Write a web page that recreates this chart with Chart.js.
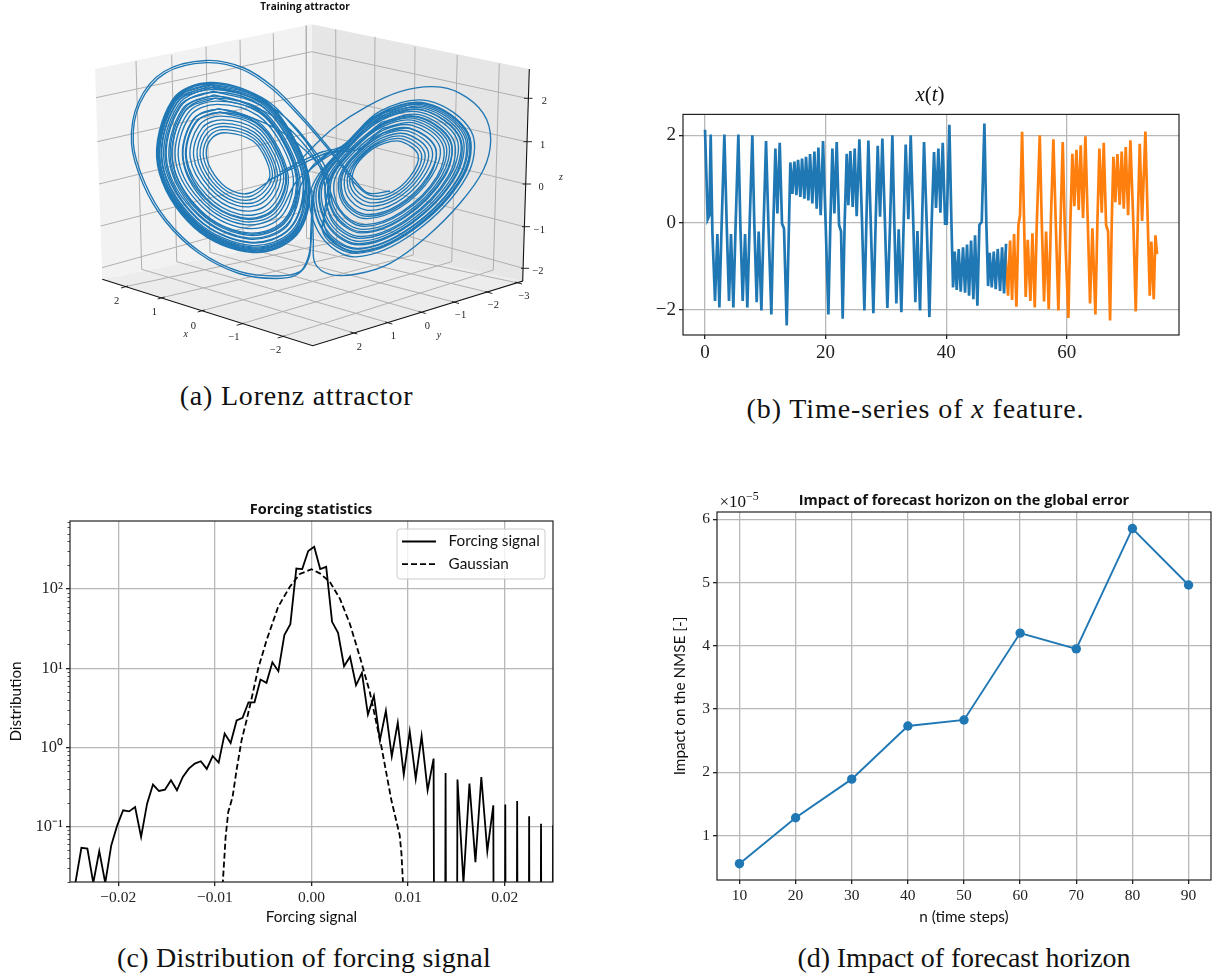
<!DOCTYPE html>
<html>
<head>
<meta charset="utf-8">
<script src="https://cdn.jsdelivr.net/npm/chart.js@4"></script>
<style>
html, body { margin: 0; padding: 0; background: #fff; }
#page { position: relative; width: 1219px; height: 978px; overflow: hidden; }
canvas { position: absolute; }
.t { position: absolute; white-space: nowrap; transform: translate(-50%, -50%); color: #111; }
.cap { font: 28px "Liberation Serif", serif; }
.head { font: bold 14.5px "Open Sans", sans-serif; }
sup { font-size: 70%; line-height: 0; }
</style>
</head>
<body>
<div id="page">
  <canvas id="chartA" width="600" height="370" style="left:0;top:0"></canvas>
  <canvas id="chartB" width="560" height="270" style="left:640px;top:100px"></canvas>
  <canvas id="chartC" width="570" height="430" style="left:0;top:505px"></canvas>
  <canvas id="chartD" width="569" height="440" style="left:650px;top:495px"></canvas>

  <div class="t head" style="left:305px;top:6px;font-size:10px">Training attractor</div>
  <div class="t" style="left:930px;top:94px;font:21px 'Liberation Serif',serif"><i>x</i>(<i>t</i>)</div>
  <div class="t head" style="left:311px;top:508px">Forcing statistics</div>
  <div class="t head" style="left:964px;top:499px">Impact of forecast horizon on the global error</div>
  <div class="t" style="left:739px;top:502px;font:17px 'Liberation Serif',serif">×10<sup>−5</sup></div>

  <div class="t cap" style="left:296.5px;top:396px;letter-spacing:.8px">(a) Lorenz attractor</div>
  <div class="t cap" style="left:915.5px;top:409px;letter-spacing:.9px">(b) Time-series of <i>x</i> feature.</div>
  <div class="t cap" style="left:304px;top:958px;letter-spacing:.25px">(c) Distribution of forcing signal</div>
  <div class="t cap" style="left:964px;top:958px;letter-spacing:-.1px">(d) Impact of forecast horizon</div>
</div>

<script>
// (b) x feature
const timeTrain = [0,.45,.72,.94,1.22,1.66,2.05,2.38,2.77,3.21,3.6,3.98,4.31,4.7,5.09,5.53,5.86,6.25,6.64,7.02,7.41,7.85,8.18,8.57,8.9,9.35,9.73,10.12,10.5,11,11.34,11.67,12,12.39,12.77,13.1,13.55,14.15,14.49,14.82,15.15,15.43,15.81,16.09,16.48,16.75,17.14,17.42,17.8,18.14,18.52,18.8,19.18,19.57,20.01,20.46,20.79,21.12,21.45,21.84,22.23,22.56,22.83,23.16,23.5,23.77,24.1,24.49,24.82,25.15,25.6,26.04,26.43,26.76,27.09,27.48,27.92,28.3,28.64,29.03,29.41,29.85,30.24,30.68,31.07,31.4,31.73,32.12,32.56,32.95,33.28,33.72,34.11,34.55,34.88,35.22,35.66,35.99,36.32,36.77,37.21,37.59,37.98,38.31,38.7,39.03,39.42,39.81,40.08,40.52,40.86,41.13,41.41,41.74,42.07,42.4,42.79,43.12,43.45,43.79,44.12,44.5,44.78,45.17,45.5,45.89,46.33,46.66,46.94,47.21,47.55,47.88,48.21,48.54,48.93,49.26,49.59,49.92];
const xTrain = [2.13,.08,.17,2.02,-.2,-1.79,-.26,-1.94,.02,2.02,-.05,-1.79,-.26,-1.94,.02,2.02,-.05,-1.79,-.26,-1.94,.02,2,-.05,-1.82,-.2,-2.01,.02,1.87,.02,-2.1,.02,1.7,.21,1.83,-.02,-.13,-2.35,1.38,.66,1.4,.63,1.44,.59,1.47,.55,1.51,.51,1.57,.44,1.63,.32,1.72,.17,1.87,-.05,-2.1,.02,1.7,.21,1.85,-.05,-.2,-2.2,.02,1.58,.4,1.64,.36,1.7,.15,1.91,.02,-2.01,.02,1.88,.02,-2.07,.02,1.76,.14,1.93,-.05,-1.95,-.05,2,-.05,-1.85,-.15,-2.05,.02,1.79,.08,2,-.05,-1.82,-.19,-2.01,.02,1.85,-.05,-2.16,.02,1.62,.34,1.7,.23,1.83,-.02,-.02,2.24,.02,-1.48,-.66,-1.54,-.6,-1.58,-.56,-1.6,-.5,-1.67,-.41,-1.75,-.29,-1.9,-.05,.02,2.27,-.05,-1.45,-.69,-1.48,-.66,-1.52,-.6,-1.56,-.56,-1.62,-.48];
const timeTest = [49.81,50.25,50.59,50.92,51.25,51.64,51.97,52.24,52.58,52.91,53.18,53.52,53.96,54.29,54.68,55.01,55.51,55.84,56.22,56.56,57,57.38,57.77,58.16,58.6,58.99,59.32,59.65,60.26,60.59,60.92,61.25,61.59,61.97,62.3,62.69,63.08,63.47,63.85,64.24,64.74,65.07,65.4,65.79,66.12,66.51,66.84,67.17,67.45,67.72,68.05,68.39,68.77,69.1,69.44,69.77,70.16,70.54,71.04,71.43,71.76,72.09,72.48,73.03,73.42,73.75,74.02,74.41,74.69,74.96];
const xTest = [-.66,-1.67,-.41,-1.77,-.26,-1.92,-.05,.17,2.08,.02,-1.7,-.39,-1.79,-.24,-1.94,-.05,2,.02,-1.8,-.2,-1.98,.17,1.91,.02,-2.01,.17,1.85,-.05,-2.18,.02,1.58,.38,1.67,.29,1.77,.11,1.98,.02,-1.85,-.13,-2.1,.02,1.7,.23,1.83,-.05,-.2,-2.24,.02,1.51,.47,1.57,.41,1.63,.32,1.73,.17,1.89,-.05,-2.03,.02,1.81,.04,2.09,.02,-1.67,-.43,-1.75,-.29,-.72];
const timeTicks = [0, 20, 40, 60];
const xFeatureTicks = [-2, 0, 2];

// (c) forcing histogram, empty bins drop out of the log axis
const EMPTY = 1e-30;
const forcingBins = [-.02444,-.02382,-.0232,-.02259,-.02197,-.02135,-.02073,-.02011,-.0195,-.01888,-.01826,-.01764,-.01702,-.01641,-.01579,-.01517,-.01455,-.01393,-.01332,-.0127,-.01208,-.01146,-.01084,-.01023,-.00961,-.00899,-.00837,-.00775,-.00714,-.00652,-.0059,-.00528,-.00466,-.00405,-.00343,-.00281,-.00219,-.00157,-.00096,-.00034,.00028,.0009,.00152,.00213,.00275,.00337,.00399,.00461,.00522,.00584,.00646,.00708,.0077,.00831,.00893,.00955,.01017,.01079,.0114,.01202,.01264,.01326,.01388,.01449,.01511,.01573,.01635,.01697,.01758,.0182,.01882,.01944,.02006,.02067,.02129,.02191,.02253,.02315,.02376,.02438,.025];
const forcingCounts = [.0195,.054,.053,.0195,.049,.0195,.058,.104,.161,.156,.177,.074,.195,.34,.282,.293,.385,.288,.424,.54,.625,.67,.536,.78,.644,1.5,1.14,2.19,2.36,3.72,3.72,7.2,6.55,11.9,9.2,26.2,36.1,182,179,302,343,179,191,38.6,28.1,10.6,14,6.1,8.75,2.6,4.48,1.23,2.9,.774,2.06,.454,1.6,.4,1.39,.288,.723,EMPTY,.476,EMPTY,.393,.0195,.349,.0357,.424,.049,.186,EMPTY,.191,EMPTY,.211,EMPTY,.135,EMPTY,.109,EMPTY,.104];
const gaussBins = [-.0092,-.00889,-.00862,-.00817,-.00776,-.00724,-.00672,-.0062,-.00552,-.00465,-.00345,-.00224,-.00121,0,.00086,.00189,.00293,.00396,.005,.00603,.00724,.00827,.00913,.00931,.00947];
const gaussValues = [.018,.074,.153,.237,.515,1.23,2.21,4.15,9.93,22.6,59.8,107,155,178,158,124,76,36.8,14,5.04,1.02,.215,.078,.046,.0195];
const forcingTicks = [-.02, -.01, 0, .01, .02];
const distributionTicks = [.1, 1, 10, 100];
const distributionLabels = ['10⁻¹', '10⁰', '10¹', '10²'];

// (d) impact on the NMSE, in units of 1e-5
const horizonSteps = [10, 20, 30, 40, 50, 60, 70, 80, 90];
const nmseImpact = [.553, 1.28, 1.89, 2.73, 2.826, 4.2, 3.95, 5.853, 4.96];
const nmseTicks = [1, 2, 3, 4, 5, 6];

// (a) attractor traced on the picture, in projected plot units
const attractorMain = [
[312,190],[311.5,215],[310.7,233.3],[309.3,256.7],[300,271.7],[276.7,276],[240,271.7],[200,251.7],[166.7,220],[145,183.3],[133.3,143.3],[140,103.3],[165,73.3],[206.7,62.7],[243.3,70],[273.3,90],[300,116.7],[323.3,143.3],[343.3,168.3],[351.7,180],
[369.6,195.1],[390.7,192.8],[410,176.7],[418.2,155.3],[401.6,141.6],[384.7,143.1],[367.6,152.7],[354.3,168.8],[353.7,186.3],
[368.8,198.7],[392.1,195.1],[413.3,176.7],[421.4,153.9],[403.2,139.1],[384.4,141.2],[366,152.3],[351.6,170.2],[351.7,189.4],
[368,202.3],[393.5,197.4],[416.6,176.7],[424.6,152.5],[404.8,136.7],[384.1,139.3],[364.4,151.9],[348.9,171.6],[349.7,192.5],
[367.2,205.9],[394.9,199.7],[419.9,176.7],[428.1,151],[406.5,134],[383.8,137.2],[362.5,151.5],[345.7,173.2],[347.3,196.2],
[366.3,210.1],[396.5,202.4],[423.7,176.7],[431.8,149.3],[408.4,131.2],[383.4,135],[360.7,151],[342.6,174.9],[345,199.8],
[365.3,214.3],[398.2,205.1],[427.6,176.7],[435.5,147.7],[410.3,128.3],[383.1,132.8],[358.8,150.5],[339.4,176.5],[342.7,203.4],
[364.4,218.5],[399.8,207.8],[431.4,176.7],[439.5,145.9],[412.3,125.3],[382.7,130.4],[356.7,150],
[330,152],[300,165],[275,177],
[249.8,193],[230.7,190.2],[214.4,174.9],[206.2,154],[212.5,137.6],[227.2,132.8],[252.6,140.8],[266.6,160.9],[269.1,179.1],
[252.7,195.6],[232.1,194],[213.2,178.1],[203.2,154.7],[210,135.2],[226.1,129.7],[253.2,138],[268.4,159.3],[271.8,179.6],
[255.6,198.2],[233.5,197.8],[212,181.3],[200.1,155.4],[207.5,132.8],[225,126.5],[253.8,135.2],[270.2,157.7],[274.5,180.1],
[258.5,200.8],[234.9,201.6],[210.8,184.5],[197.1,156.1],[205,130.4],[223.9,123.4],[254.4,132.4],[271.9,156.1],[277.2,180.6],
[261.4,203.4],[236.3,205.4],[209.6,187.7],[193.7,156.9],[202.3,127.8],[222.7,119.9],[255.1,129.1],[274,154.3],[280.3,181.2],
[264.8,206.4],[237.9,209.9],[208.2,191.5],[190.2,157.7],[199.4,125],[221.4,116.2],[255.8,125.9],[276,152.4],[283.5,181.7],
[268.1,209.5],[239.6,214.3],[206.8,195.2],[186.6,158.5],[196.4,122.2],[220.2,112.5],[256.5,122.6],[278.1,150.5],[286.6,182.3],
[271.5,212.5],[241.2,218.7],[205.4,198.9],[183.3,159.3],[193.7,119.6],[219,109.1],[257.1,119.8],
[285,134],[305,150],[322,170],[338.7,209.6],
[362.7,226.3],[402.8,212.8],[438.6,176.7],[445.4,143.4],[415.2,120.8],[382.2,126.9],[354,149.3],[331.3,180.7],[336.7,212.7],
[362,229.3],[404,214.7],[441.3,176.7],[448,142.2],[416.6,118.8],[381.9,125.3],[352.9,149.1],[329.5,181.6],[335.3,214.7],
[361.5,231.7],[404.9,216.2],[443.5,176.7],[450.7,141],[417.9,116.7],[381.7,123.8],[351.3,148.7],
[332,152],[312,168],[296,182],
[275.9,216.4],[243.3,224.4],[203.6,203.7],[178.7,160.3],[190,116],[217.3,104.4],[258,115.6],[282.5,146.5],[293.4,183.6],
[278.8,219],[244.7,228.2],[202.4,206.9],[175.6,161],[187.5,113.6],[216.2,101.2],[258.7,112.3],[284.5,144.7],[296.5,184.2],
[282.2,222],[246.3,232.7],[201,210.7],[172.6,161.7],[185,111.2],[215.1,98.1],[259.1,110.4],[285.7,143.6],[298.3,184.5],
[284.1,223.7],[247.2,235.2],[200.2,212.8],[170.8,162.1],[183.5,109.8],[214.5,96.2],[259.4,109],
[285,125],[307,148],[322,172],[331.6,220.4],
[360,238.3],[407.5,220.4],[449.6,176.7],[456.6,138.4],[420.8,112.3],[381.1,120.3],[348.6,148],[322.3,185.3],[330,223],
[359.4,241.3],[408.6,222.3],[452.3,176.7],[459.2,137.3],[422.2,110.2],[380.9,118.7],[347,147.6],[319.6,186.7],[328,226.1],
[358.6,244.9],[410,224.6],[455.6,176.7],[461.9,136.1],[423.5,108.2],[380.6,117.1],[346,147.4],
[330,155],[310,170],[301,185],
[287,226.3],[248.6,239],[199,216],[167,163],[180.4,106.8],[213.1,92.3],[260.3,104.8],[289.2,140.4],[303.7,185.5],
[289.9,228.9],[250,242.8],[197.8,219.2],[164.4,163.6],[178.3,104.8],[212.2,89.6],[260.7,103],[290.4,139.4],[305.5,185.9],
[291.9,230.7],[251,245.4],[197,221.4],[162.6,164],[176.8,103.4],[211.6,87.8],[261,101.6],
[286,118],[310,145],[328,175],[325.6,229.7],
[357.6,249.1],[411.7,227.3],[459.5,176.7],[465.6,134.5],[425.4,105.3],[380.3,114.9],[344.4,146.9],[314.7,189.3],[324.3,231.7],
[357.1,251.5],[412.6,228.8],[461.7,176.7],[467.5,133.7],[426.3,103.9],[380,113.5],[343.3,146.7],
[325,155],[308,172],[306,186],
[293.8,232.4],[251.9,247.9],[196.2,223.5],[160.3,164.5],[175,101.6],[210.7,85.4],[261.4,99.7],[292.4,137.5],[308.7,186.5],
[295.2,233.7],[252.6,249.8],[195.6,225.1],[159,164.8],[173.9,100.6],[210,83.8],[261.7,98.3],[293.3,136.7],[310,186.7],
[296.7,235],[253.3,251.7],[195,226.7],[158.3,165],[173.3,100],[210,83.3],[261.7,98.3],[293.3,136.7],[310,186.7],
[296,235.5],[253,252.5],[194,227.5],[157.5,165],[172.5,99.5],[210,82.5],[262,97.5],
[292,125],[315,155],[330,190],[323.3,233.3],
[356.7,253.3],[413.3,230],[463.3,176.7],[468.3,133.3],[426.7,103.3],[380,113.3],[343.3,146.7],[310.6,191.4],[321.3,236.4],
[355.9,256.9],[414.7,232.3],[466.6,176.7],[471.5,131.9],[428.3,100.9],[379.7,111.4],[341.7,146.3],
[322,152],[300,162],[280,172]
];
const attractorOuterRight = [[312.5,195],[312.8,220],[313.3,240],[315,263.3],[330,274.3],[356.7,274],[390,263.3],[426.7,236.7],[460,203.3],[483.3,170],[490.7,140],[483.3,113.3],[460,93.3],[433.3,86.7],[400,91.7],[366.7,106.7],[333.3,128.3],[313.3,146.7],[296.7,163.3],[280,175],[268,180]];
const attractorOuterLeft = [[311.5,200],[311.7,233],[308,258],[298,274],[276,278.5],[239,273.5],[198.5,253],[165,221],[143,184],[131.5,143],[138.5,102],[164,71.5],[206.5,60.5],[244,68],[274.5,88],[301,115],[325,143],[345,168],[353,178],[368,193],[390,191]];
// more turns of the thick bands of both lobes
const attractorBands = [
[[210.3,84.1],[261.6,99],[292.9,137.1],[309.3,186.6],[296,234.4],[253,250.7],[195.3,225.9],[159,164.8],[173.9,100.6],[210.3,84.1]],
[[210.8,85.7],[261.3,100.4],[292,137.9],[308,186.3],[294.5,233],[252.3,248.8],[195.9,224.3],[160.6,164.5],[175.2,101.8],[210.8,85.7]],
[[211.4,87.3],[261,101.8],[291.1,138.7],[306.6,186.1],[293.1,231.8],[251.6,246.9],[196.5,222.7],[162.1,164.1],[176.4,103],[211.4,87.3]],
[[212.7,91.2],[260.2,105.3],[288.9,140.7],[303.3,185.4],[289.4,228.5],[249.8,242.2],[198,218.7],[165.9,163.2],[179.6,106],[212.7,91.2]],
[[214,94.9],[259.5,108.6],[286.9,142.6],[300.1,184.9],[286,225.5],[248.2,237.8],[199.4,215],[169.5,162.4],[182.5,108.8],[214,94.9]],
[[215.1,98.1],[258.9,111.4],[285.1,144.2],[297.4,184.4],[283.1,222.9],[246.8,233.9],[200.6,211.7],[172.6,161.7],[185,111.2],[215.1,98.1]],
[[218.8,108.6],[256.9,120.7],[279.2,149.5],[288.4,182.7],[273.5,214.2],[242.1,221.3],[204.6,201.1],[182.8,159.4],[193.3,119.2],[218.8,108.6]],
[[219.9,111.8],[256.3,123.5],[277.5,151.1],[285.7,182.2],[270.6,211.6],[240.7,217.5],[205.8,197.9],[185.8,158.7],[195.8,121.6],[219.9,111.8]],
[[380.1,113.9],[343.8,146.8],[314.2,189.5],[323.9,232.3],[357,252.1],[412.8,229.2],[462.2,176.7],[467.2,133.8],[426.2,104.1],[380.1,113.9]],
[[380.4,115.8],[345.4,147.2],[316.9,188.1],[326,229.2],[357.8,248.5],[411.4,226.9],[458.9,176.7],[464,135.2],[424.6,106.6],[380.4,115.8]],
[[380.8,118.4],[347.6,147.8],[320.5,186.3],[328.6,225],[358.8,243.7],[409.6,223.9],[454.5,176.7],[459.8,137],[422.4,109.8],[380.8,118.4]],
[[381.4,122.2],[350.8,148.5],[325.9,183.5],[332.7,218.9],[360.4,236.5],[406.8,219.3],[447.9,176.7],[453.4,139.9],[419.2,114.7],[381.4,122.2]],
[[381.7,124.1],[352.4,149],[328.6,182.1],[334.7,215.8],[361.2,232.9],[405.4,217],[444.6,176.7],[450.2,141.3],[417.6,117.1],[381.7,124.1]],
[[382.4,128.5],[356.1,149.9],[334.9,178.8],[339.3,208.5],[363.1,224.5],[402.1,211.6],[436.9,176.7],[442.7,144.5],[413.9,122.8],[382.4,128.5]],
[[383.1,133],[359.9,150.8],[341.2,175.6],[344,201.3],[364.9,216.1],[398.9,206.3],[429.2,176.7],[435.3,147.8],[410.1,128.5],[383.1,133]]
];

// (a) box of the 3D axes, in the same projected units
const wallLeft = [[95,69],[311.7,24.3],[311.7,236.7],[102.3,279.3]];
const wallRight = [[311.7,24.3],[529.3,69],[522.7,281],[311.7,236.7]];
const boxFloor = [[102.3,279.3],[311.7,236.7],[522.7,281],[312.7,345.7]];
const boxGrid = [
[[136,61],[141.7,269.3]],[[171.7,55],[176.7,261.7]],[[206,46.7],[210,252.3]],[[240,40],[243.3,247.3]],[[273.3,33.3],[276.7,241.7]],[[306,25.7],[306.5,238]],
[[335.7,29.3],[336.7,241.7]],[[375,36.7],[373.3,248.3]],[[415,46.7],[413.3,255]],[[457.3,55],[451.7,261.7]],[[499.3,63.3],[493.3,270]],
[[96,97.7],[311.7,51.7],[526.7,98.3]],[[97.3,141.7],[311.7,93.3],[526,141.7]],[[99,184],[311.7,132.3],[525,184]],[[100.7,226],[311.7,171.7],[524.3,226.7]],[[102,267.7],[311.7,209.3],[523.3,268.3]],
[[141.7,269.3],[353.3,332.7]],[[176.7,261.7],[388.3,322.7]],[[210,252.3],[421.7,312.3]],[[243.3,247.3],[455,302.3]],[[276.7,241.7],[488.3,292.3]],[[306.5,238],[518,283]],
[[336.7,241.7],[125,286.7]],[[373.3,248.3],[161.7,297.7]],[[413.3,255],[201.7,310.7]],[[451.7,261.7],[240.7,324]],[[493.3,270],[281.7,336.7]]
];
const boxAxes = [[[102.3,279.3],[312.7,345.7],[522.7,281],[529.3,69]]];
const boxTicks = [
[[128,286],[121,288]],[[164.7,297],[157.7,299]],[[204.7,310],[197.7,312]],[[243.7,323.3],[236.7,325.3]],[[284.7,336],[277.7,338]],
[[350.3,332],[357.3,334]],[[385.3,322],[392.3,324]],[[418.7,311.5],[425.7,313.5]],[[452,301.5],[459,303.5]],[[485.3,291.5],[492.3,293.5]],[[515,282],[522,284]],
[[524,98.3],[532.5,98.3]],[[523.5,141.7],[532,141.7]],[[522.5,184],[531,184]],[[522,226.7],[530,226.7]],[[521,268.3],[529,268.3]]
];
const boxLabels = [['2',116.7,301.7],['1',154.3,312.7],['0',193.3,326],['−1',234,337.7],['−2',275.7,350],['2',359.3,347.7],['1',393.3,336.7],['0',427.3,326.7],['−1',460.7,315.7],['−2',493.3,305.7],['−3',524,296.7],['2',544.3,101.7],['1',542.7,145],['0',541,187.7],['−1',539.3,230],['−2',538,271.7]];
const boxAxisNames = [['x',185.7,334.3],['y',439,335],['z',561,177.7]];

const BLUE = '#1f77b4';
const ORANGE = '#ff7f0e';
const GRID = '#b8b8b8';
const toXY = (pts) => pts.map((p) => ({ x: p[0], y: p[1] }));
const zipXY = (xs, ys) => xs.map((v, i) => ({ x: v, y: ys[i] }));
const minusSign = (s) => String(s).replace('-', '−');

// matplotlib style box round the axes
const framePlugin = {
    id: 'frame',
    afterDatasetsDraw(chart) {
        const a = chart.chartArea;
        const ctx = chart.ctx;
        ctx.save();
        ctx.strokeStyle = '#222';
        ctx.lineWidth = 1.2;
        ctx.strokeRect(a.left, a.top, a.right - a.left, a.bottom - a.top);
        ctx.restore();
    }
};

// small ticks of the log axis
const minorTicksPlugin = {
    id: 'minorTicks',
    afterDatasetsDraw(chart) {
        const sc = chart.scales.y;
        const ctx = chart.ctx;
        ctx.save();
        ctx.strokeStyle = '#222';
        ctx.lineWidth = 0.8;
        ctx.beginPath();
        for (let dec = -2; dec <= 2; dec++) {
            for (let m = 2; m <= 9; m++) {
                const v = m * Math.pow(10, dec);
                if (v < sc.min || v > sc.max) continue;
                const y = Math.round(sc.getPixelForValue(v)) + 0.5;
                ctx.moveTo(sc.right - 2.5, y);
                ctx.lineTo(sc.right, y);
            }
        }
        ctx.stroke();
        ctx.restore();
    }
};

// legend sits inside the axes, as in the picture
const legendPlugin = {
    id: 'insideLegend',
    afterDatasetsDraw(chart) {
        const ctx = chart.ctx;
        const a = chart.chartArea;
        const left = a.right - 156, top = a.top + 8, w = 148, h = 50;
        ctx.save();
        ctx.beginPath();
        ctx.roundRect(left, top, w, h, 3);
        ctx.fillStyle = 'rgba(255,255,255,0.8)';
        ctx.fill();
        ctx.strokeStyle = '#ccc';
        ctx.lineWidth = 1;
        ctx.stroke();
        chart.data.datasets.forEach((ds, i) => {
            const y = top + 12.5 + i * 22.6;
            ctx.beginPath();
            ctx.setLineDash(ds.borderDash || []);
            ctx.strokeStyle = ds.borderColor;
            ctx.lineWidth = ds.borderWidth;
            ctx.moveTo(left + 5, y);
            ctx.lineTo(left + 39, y);
            ctx.stroke();
            ctx.setLineDash([]);
            ctx.fillStyle = '#111';
            ctx.font = '15.3px Lato, sans-serif';
            ctx.textBaseline = 'middle';
            ctx.fillText(ds.label, left + 51.5, y);
        });
        ctx.restore();
    }
};

// tick numbers of the 3D box
const boxLabelPlugin = {
    id: 'boxLabels',
    afterDatasetsDraw(chart) {
        const ctx = chart.ctx;
        const xs = chart.scales.x, ys = chart.scales.y;
        ctx.save();
        ctx.fillStyle = '#222';
        ctx.textAlign = 'center';
        ctx.textBaseline = 'middle';
        ctx.font = '10.5px "Liberation Serif", serif';
        boxLabels.forEach((l) => ctx.fillText(l[0], xs.getPixelForValue(l[1]), ys.getPixelForValue(l[2])));
        ctx.font = 'italic 10px "Liberation Serif", serif';
        boxAxisNames.forEach((l) => ctx.fillText(l[0], xs.getPixelForValue(l[1]), ys.getPixelForValue(l[2])));
        ctx.restore();
    }
};

function setTicks(values) {
    return (axis) => { axis.ticks = values.map((v) => ({ value: v })); };
}
function axisOptions(o) {
    return {
        type: o.type || 'linear',
        min: o.min,
        max: o.max,
        afterBuildTicks: setTicks(o.ticks),
        afterFit(axis) {
            if (axis.isHorizontal()) axis.height = o.size;
            else axis.width = o.size;
        },
        grid: { color: GRID, lineWidth: 1.3, tickColor: '#222', tickLength: 4 },
        border: { display: false },
        ticks: {
            autoSkip: false,
            maxRotation: 0,
            padding: 3,
            color: '#222',
            font: { family: '"Liberation Serif", serif', size: o.fontSize },
            callback: o.format
        },
        title: o.title ? {
            display: true,
            text: o.title,
            color: '#111',
            font: { family: 'Lato, sans-serif', size: 15.3 },
            padding: o.titlePadding
        } : { display: false }
    };
}
const common = {
    responsive: false,
    animation: false,
    devicePixelRatio: 1,
    events: [],
    plugins: { legend: { display: false }, tooltip: { enabled: false } }
};

// panel (a)
const wallDataset = (pts, color) => ({ data: toXY(pts), showLine: true, fill: 'shape', backgroundColor: color, borderWidth: 0, pointRadius: 0 });
const wireDataset = (pts, color, width) => ({ data: toXY(pts), showLine: true, fill: false, borderColor: color, borderWidth: width, pointRadius: 0 });
const curveDataset = (pts) => ({ data: toXY(pts), showLine: true, fill: false, borderColor: BLUE, borderWidth: 1.35, pointRadius: 0, tension: 0.35 });
new Chart(document.getElementById('chartA'), {
    type: 'scatter',
    data: {
        datasets: [
            ...boxAxes.map((pts) => wireDataset(pts, '#111', 1.1)),
            ...boxTicks.map((pts) => wireDataset(pts, '#111', 0.9)),
            curveDataset(attractorMain),
            curveDataset(attractorOuterRight),
            curveDataset(attractorOuterLeft),
            ...attractorBands.map(curveDataset),
            ...boxGrid.map((pts) => wireDataset(pts, '#b0b0b0', 1)),
            wallDataset(wallLeft, '#f2f2f2'),
            wallDataset(wallRight, '#e6e6e6'),
            wallDataset(boxFloor, '#ececec')
        ]
    },
    options: {
        ...common,
        layout: { autoPadding: false, padding: 0 },
        scales: {
            x: { type: 'linear', display: false, min: 0, max: 600 },
            y: { type: 'linear', display: false, min: 0, max: 370, reverse: true }
        }
    },
    plugins: [boxLabelPlugin]
});

// panel (b)
new Chart(document.getElementById('chartB'), {
    type: 'line',
    data: {
        datasets: [
            { data: zipXY(timeTrain, xTrain), borderColor: BLUE, borderWidth: 2.7, pointRadius: 0 },
            { data: zipXY(timeTest, xTest), borderColor: ORANGE, borderWidth: 2.7, pointRadius: 0 }
        ]
    },
    options: {
        ...common,
        layout: { autoPadding: false, padding: { top: 11, right: 21, left: 0, bottom: 0 } },
        scales: {
            x: axisOptions({ min: -3.65, max: 78.6, ticks: timeTicks, size: 35, fontSize: 19, format: (v) => minusSign(v) }),
            y: axisOptions({ min: -2.57, max: 2.48, ticks: xFeatureTicks, size: 43, fontSize: 19, format: (v) => minusSign(v) })
        }
    },
    plugins: [framePlugin]
});

// panel (c)
new Chart(document.getElementById('chartC'), {
    type: 'line',
    data: {
        datasets: [
            { label: 'Forcing signal', data: zipXY(forcingBins, forcingCounts), borderColor: '#000', borderWidth: 1.8, pointRadius: 0 },
            { label: 'Gaussian', data: zipXY(gaussBins, gaussValues), borderColor: '#000', borderWidth: 1.8, borderDash: [6, 3], pointRadius: 0 }
        ]
    },
    options: {
        ...common,
        layout: { autoPadding: false, padding: { top: 16, right: 17, left: 0, bottom: 0 } },
        scales: {
            x: axisOptions({ min: -.025, max: .025, ticks: forcingTicks, size: 53, fontSize: 15.5, title: 'Forcing signal', titlePadding: { top: 0, bottom: 9 }, format: (v) => minusSign(v.toFixed(2)) }),
            y: axisOptions({ type: 'logarithmic', min: .02, max: 724, ticks: distributionTicks, size: 70, fontSize: 16.5, title: 'Distribution', titlePadding: { top: 7, bottom: 0 }, format: (v) => distributionLabels[distributionTicks.indexOf(v)] })
        }
    },
    plugins: [framePlugin, minorTicksPlugin, legendPlugin]
});

// panel (d)
new Chart(document.getElementById('chartD'), {
    type: 'line',
    data: {
        datasets: [
            { data: zipXY(horizonSteps, nmseImpact), borderColor: BLUE, backgroundColor: BLUE, borderWidth: 1.9, pointRadius: 4.7, pointBorderWidth: 0 }
        ]
    },
    options: {
        ...common,
        layout: { autoPadding: false, padding: { top: 17, right: 8, left: 0, bottom: 0 } },
        scales: {
            x: axisOptions({ min: 6, max: 94, ticks: horizonSteps, size: 55, fontSize: 15.5, title: 'n (time steps)', titlePadding: { top: 0, bottom: 9 }, format: (v) => String(v) }),
            y: axisOptions({ min: .295, max: 6.115, ticks: nmseTicks, size: 67, fontSize: 15.5, title: 'Impact on the NMSE [-]', titlePadding: { top: 21, bottom: 0 }, format: (v) => String(v) })
        }
    },
    plugins: [framePlugin]
});
</script>
</body>
</html>
